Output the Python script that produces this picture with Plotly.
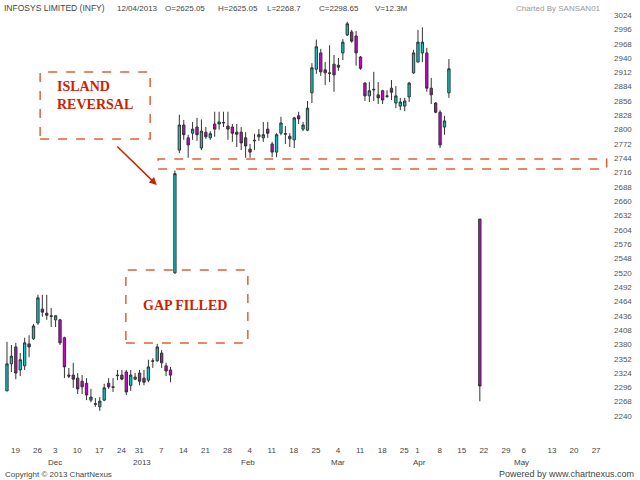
import plotly.graph_objects as go

# trading-day index of each candle (0 = 16 Nov 2012)
day_index = list(range(0, 101)) + [107]

open_ = [2289, 2342, 2375, 2330, 2338, 2381, 2391, 2422, 2449, 2441,
         2436, 2428, 2428, 2393, 2320, 2320, 2314, 2308, 2304, 2271,
         2264, 2258, 2271, 2304, 2297, 2320, 2320, 2326, 2300, 2312,
         2324, 2314, 2310, 2348, 2348, 2363, 2338, 2330,
         2520, 2760, 2809, 2784, 2793, 2805, 2764, 2795, 2784, 2811,
         2811, 2813, 2807, 2805, 2795, 2795, 2784, 2762, 2778, 2786,
         2784, 2801, 2772, 2756, 2793, 2791, 2787, 2780, 2827, 2801,
         2799, 2872, 2918, 2950, 2917, 2911, 2928, 2926, 2950, 2985,
         2991, 2983, 2942, 2891, 2866, 2879, 2868, 2876, 2866, 2881,
         2852, 2846, 2846, 2864, 2911, 2932, 2950, 2950, 2881, 2852,
         2834, 2805, 2872,
         2625.05]
high = [2385, 2379, 2383, 2363, 2393, 2398, 2420, 2477, 2477, 2477,
        2451, 2436, 2430, 2395, 2334, 2344, 2324, 2320, 2314, 2293,
        2275, 2277, 2303, 2314, 2314, 2330, 2330, 2330, 2330, 2324,
        2330, 2330, 2350, 2353, 2381, 2369, 2344, 2336,
        2720, 2829, 2819, 2790, 2815, 2823, 2820, 2805, 2797, 2835,
        2835, 2835, 2835, 2811, 2811, 2805, 2795, 2772, 2792, 2801,
        2815, 2815, 2776, 2793, 2825, 2807, 2793, 2825, 2835, 2815,
        2856, 2930, 2976, 2958, 2932, 2965, 2946, 2940, 2977, 3011,
        2995, 2993, 2944, 2893, 2893, 2913, 2893, 2878, 2877, 2897,
        2885, 2862, 2862, 2893, 2956, 2995, 3000, 2960, 2901, 2854,
        2838, 2827, 2938,
        2625.05]
low = [2289, 2326, 2312, 2318, 2330, 2355, 2389, 2418, 2434, 2428,
       2414, 2414, 2379, 2314, 2314, 2295, 2283, 2283, 2271, 2267,
       2258, 2250, 2269, 2293, 2287, 2310, 2310, 2281, 2289, 2310,
       2300, 2300, 2306, 2334, 2346, 2334, 2318, 2306,
       2518, 2754, 2780, 2745, 2780, 2778, 2760, 2782, 2780, 2786,
       2800, 2805, 2780, 2776, 2766, 2760, 2745, 2745, 2760, 2778,
       2776, 2784, 2746, 2746, 2789, 2772, 2766, 2764, 2811, 2797,
       2797, 2852, 2909, 2905, 2887, 2893, 2874, 2915, 2936, 2983,
       2970, 2925, 2917, 2856, 2854, 2856, 2850, 2850, 2862, 2858,
       2842, 2838, 2836, 2854, 2909, 2932, 2932, 2874, 2850, 2832,
       2764, 2790, 2862,
       2268.7]
close = [2342, 2357, 2324, 2350, 2383, 2375, 2416, 2471, 2443, 2437,
         2435, 2436, 2383, 2336, 2318, 2312, 2293, 2297, 2281, 2277,
         2263, 2269, 2295, 2297, 2296, 2319, 2312, 2287, 2320, 2316,
         2308, 2306, 2336, 2347, 2375, 2344, 2328, 2320,
         2714, 2809, 2790, 2770, 2801, 2790, 2797, 2786, 2792, 2801,
         2815, 2814, 2801, 2793, 2791, 2774, 2768, 2756, 2779, 2790,
         2790, 2793, 2756, 2790, 2813, 2792, 2782, 2823, 2821, 2809,
         2842, 2921, 2962, 2913, 2911, 2910, 2907, 2922, 2971, 3007,
         2973, 2950, 2920, 2866, 2876, 2878, 2862, 2858, 2865, 2873,
         2866, 2854, 2856, 2891, 2950, 2971, 2971, 2881, 2868, 2834,
         2770, 2817, 2919,
         2298.65]

# x-axis day labels (trading-day index of each Monday)
tick_pos = [1, 6, 10, 15, 20, 25, 29, 34, 39, 44, 49, 54, 59, 64, 69,
            74, 79, 84, 89, 92, 97, 102, 107, 112, 116, 122.4, 127.4, 132.4]
tick_text = ["19", "26", "3", "10", "17", "24", "31", "7", "14", "21", "28",
             "4", "11", "18", "25", "4", "11", "18", "25", "1", "8", "15",
             "22", "29", "6", "13", "20", "27"]
month_pos = [10.8, 30.5, 54.6, 74.8, 93.3, 116.5]
month_text = ["Dec", "2013", "Feb", "Mar", "Apr", "May"]

y_ticks = list(range(2240, 3025, 28))

fig = go.Figure()
fig.add_trace(go.Candlestick(
    x=day_index, open=open_, high=high, low=low, close=close,
    increasing=dict(fillcolor="#00CCCC", line=dict(color="#333333", width=1)),
    decreasing=dict(fillcolor="#CC00CC", line=dict(color="#333333", width=1)),
    whiskerwidth=0, showlegend=False, hoverinfo="skip",
))

red = "#E0603A"
txt_red = "#CC2200"
shapes = [
    dict(type="rect", xref="x", yref="y", x0=7.5, x1=32.4, y0=2781.7, y1=2912.7,
         line=dict(color=red, width=1.5, dash="dash")),
    dict(type="rect", xref="x", yref="y", x0=26.9, x1=54.5, y0=2382.8, y1=2525.5,
         line=dict(color=red, width=1.5, dash="dash")),
    dict(type="rect", xref="x", yref="y", x0=34.2, x1=135.7, y0=2723.0, y1=2742.6,
         line=dict(color=red, width=1.5, dash="dash")),
]

ann = []
ann.append(dict(xref="x", yref="y", x=10.9, y=2867.7, xanchor="left", yanchor="middle",
                text="<b>ISLAND<br>REVERSAL</b>", align="left", showarrow=False,
                font=dict(family="Liberation Serif", size=14, color=txt_red)))
ann.append(dict(xref="x", yref="y", x=40.3, y=2456, xanchor="center", yanchor="middle",
                text="<b>GAP FILLED</b>", showarrow=False,
                font=dict(family="Liberation Serif", size=14, color=txt_red)))
ann.append(dict(xref="x", yref="y", x=33.9, y=2691.7, text="", showarrow=True,
                ax=-41, ay=-40, arrowhead=2, arrowsize=1, arrowwidth=1.5,
                arrowcolor=txt_red))
for p, t in zip(month_pos, month_text):
    ann.append(dict(xref="x", yref="paper", x=p, y=-0.0793, text=t, showarrow=False,
                    xanchor="center", yanchor="middle",
                    font=dict(family="Liberation Sans", size=8, color="#444444")))

hdr_font = dict(family="Liberation Sans", size=8, color="#444444")
ann.append(dict(xref="paper", yref="paper", x=0.004, y=1.0144, text="INFOSYS LIMITED (INFY)",
                showarrow=False, xanchor="left", yanchor="middle",
                font=dict(family="Liberation Sans", size=8.5, color="#444444")))
header = [(0.189, "12/04/2013"), (0.268, "O=2625.05"), (0.355, "H=2625.05"),
          (0.436, "L=2268.7"), (0.521, "C=2298.65"), (0.613, "V=12.3M")]
for x, t in header:
    ann.append(dict(xref="paper", yref="paper", x=x, y=1.0144, text=t, showarrow=False,
                    xanchor="left", yanchor="middle", font=hdr_font))
ann.append(dict(xref="paper", yref="paper", x=0.992, y=1.0144, text="Charted By SANSAN01",
                showarrow=False, xanchor="right", yanchor="middle",
                font=dict(family="Liberation Sans", size=8, color="#999999")))
ann.append(dict(xref="paper", yref="paper", x=0.005, y=-0.1058,
                text="Copyright © 2013 ChartNexus", showarrow=False,
                xanchor="left", yanchor="middle", font=hdr_font))
ann.append(dict(xref="paper", yref="paper", x=1.046, y=-0.1058,
                text="Powered by www.chartnexus.com", showarrow=False,
                xanchor="right", yanchor="middle",
                font=dict(family="Liberation Sans", size=9, color="#444444")))

fig.update_layout(
    width=640, height=480, autosize=False,
    margin=dict(l=0, r=32, t=14, b=50, pad=0),
    paper_bgcolor="white", plot_bgcolor="white",
    shapes=shapes, annotations=ann,
    boxgap=0.25,
    xaxis=dict(range=[-1.58, 136.0], showgrid=False, zeroline=False, showline=False,
               tickvals=tick_pos, ticktext=tick_text, ticks="", automargin=False,
               tickfont=dict(family="Liberation Sans", size=8, color="#444444"),
               ticklabelstandoff=14, ticklabelshift=4,
               rangeslider=dict(visible=False), fixedrange=True),
    yaxis=dict(range=[2212.6, 3026.1], side="right", showgrid=False, zeroline=False,
               showline=False, tickvals=y_ticks, ticks="", automargin=False,
               ticklabelstandoff=5,
               tickfont=dict(family="Liberation Sans", size=8, color="#555555"),
               fixedrange=True),
)

fig.write_html("out.html", config={"displayModeBar": False},
               post_script="document.body.style.margin='0';document.body.style.padding='0';")
